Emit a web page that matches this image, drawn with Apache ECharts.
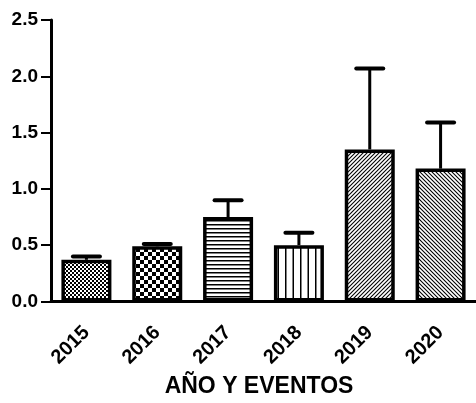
<!DOCTYPE html>
<html>
<head>
<meta charset="utf-8">
<script src="https://cdn.jsdelivr.net/npm/echarts@6/dist/echarts.min.js"></script>
<style>
  html, body { margin: 0; padding: 0; background: #fff; }
  #chart { width: 476px; height: 403px; }
</style>
</head>
<body>
<div id="chart"></div>
<script>
// Years and measured means with their upper error (SD)
const years = ['2015', '2016', '2017', '2018', '2019', '2020'];
const means = [0.37, 0.49, 0.75, 0.50, 1.35, 1.18];
const errors = [0.03, 0.02, 0.15, 0.11, 0.72, 0.41];
const patternKinds = ['fineChecker', 'checker', 'hLines', 'vLines', 'diagUp', 'diagDown'];
const yTicks = [0, 0.5, 1.0, 1.5, 2.0, 2.5];

const FONT = '"Liberation Sans", Arial, sans-serif';

// Black-on-white fill patterns for the bars
function makePattern(kind) {
  const c = document.createElement('canvas');
  let w = 4, h = 4;
  if (kind === 'checker') { w = 8; h = 8; }
  if (kind === 'vLines') { w = 15; h = 4; }
  c.width = w; c.height = h;
  const g = c.getContext('2d');
  g.fillStyle = '#fff';
  g.fillRect(0, 0, w, h);
  g.fillStyle = '#000';
  g.strokeStyle = '#000';
  switch (kind) {
    case 'fineChecker':
      g.fillRect(0, 0, 2, 2);
      g.fillRect(2, 2, 2, 2);
      break;
    case 'checker':
      g.fillRect(0, 0, 4, 4);
      g.fillRect(4, 4, 4, 4);
      break;
    case 'hLines':
      g.fillRect(0, 0, w, 1.5);
      break;
    case 'vLines':
      g.fillRect(0, 0, 1.5, h);
      g.fillRect(7.5, 0, 1.5, h);
      break;
    case 'diagUp':
    case 'diagDown':
      g.lineWidth = 1.1;
      for (let k = -1; k <= 1; k++) {
        g.beginPath();
        if (kind === 'diagUp') {
          g.moveTo(k * w - 1, h + 1);
          g.lineTo(k * w + w + 1, -1);
        } else {
          g.moveTo(k * w - 1, -1);
          g.lineTo(k * w + w + 1, h + 1);
        }
        g.stroke();
      }
      break;
  }
  return { image: c, repeat: 'repeat' };
}

const barData = means.map((v, i) => ({
  value: v,
  itemStyle: { color: makePattern(patternKinds[i]) }
}));

const errData = means.map((v, i) => [i, v, v + errors[i]]);

const chart = echarts.init(document.getElementById('chart'), null, { renderer: 'canvas' });

chart.setOption({
  animation: false,
  backgroundColor: '#fff',
  grid: { left: 51, right: 0, top: 20, bottom: 101, containLabel: false },
  xAxis: {
    type: 'category',
    data: years,
    name: 'AÑO Y EVENTOS',
    nameLocation: 'middle',
    nameGap: 70,
    nameTextStyle: {
      fontFamily: FONT, fontWeight: 'bold', fontSize: 23, color: '#000',
      padding: [0, 9, 0, 0]
    },
    axisLine: { lineStyle: { color: '#000', width: 3 } },
    axisTick: { alignWithLabel: true, length: 10, lineStyle: { color: '#000', width: 2 } },
    axisLabel: {
      rotate: 45, margin: 28, interval: 0,
      fontFamily: FONT, fontWeight: 'bold', fontSize: 20, color: '#000'
    },
    splitLine: { show: false }
  },
  yAxis: {
    type: 'value',
    min: yTicks[0],
    max: yTicks[yTicks.length - 1],
    interval: 0.5,
    axisLine: { show: true, lineStyle: { color: '#000', width: 3 } },
    axisTick: { show: true, length: 10, lineStyle: { color: '#000', width: 2 } },
    axisLabel: {
      margin: 13,
      fontFamily: FONT, fontWeight: 'bold', fontSize: 19, color: '#000',
      formatter: v => v.toFixed(1)
    },
    splitLine: { show: false }
  },
  series: [
    {
      type: 'bar',
      data: barData,
      barWidth: 50,
      itemStyle: { borderColor: '#000', borderWidth: 3.5 },
      z: 2
    },
    {
      type: 'custom',
      data: errData,
      z: 3,
      renderItem: function (params, api) {
        const x = api.value(0);
        const base = api.coord([x, api.value(1)]);
        const top = api.coord([x, api.value(2)]);
        const half = 13.5;
        return {
          type: 'group',
          children: [
            { type: 'line', shape: { x1: base[0], y1: base[1], x2: top[0], y2: top[1] },
              style: { stroke: '#000', lineWidth: 3 } },
            { type: 'line', shape: { x1: top[0] - half, y1: top[1], x2: top[0] + half, y2: top[1] },
              style: { stroke: '#000', lineWidth: 4, lineCap: 'round' } }
          ]
        };
      }
    }
  ]
});
</script>
</body>
</html>
